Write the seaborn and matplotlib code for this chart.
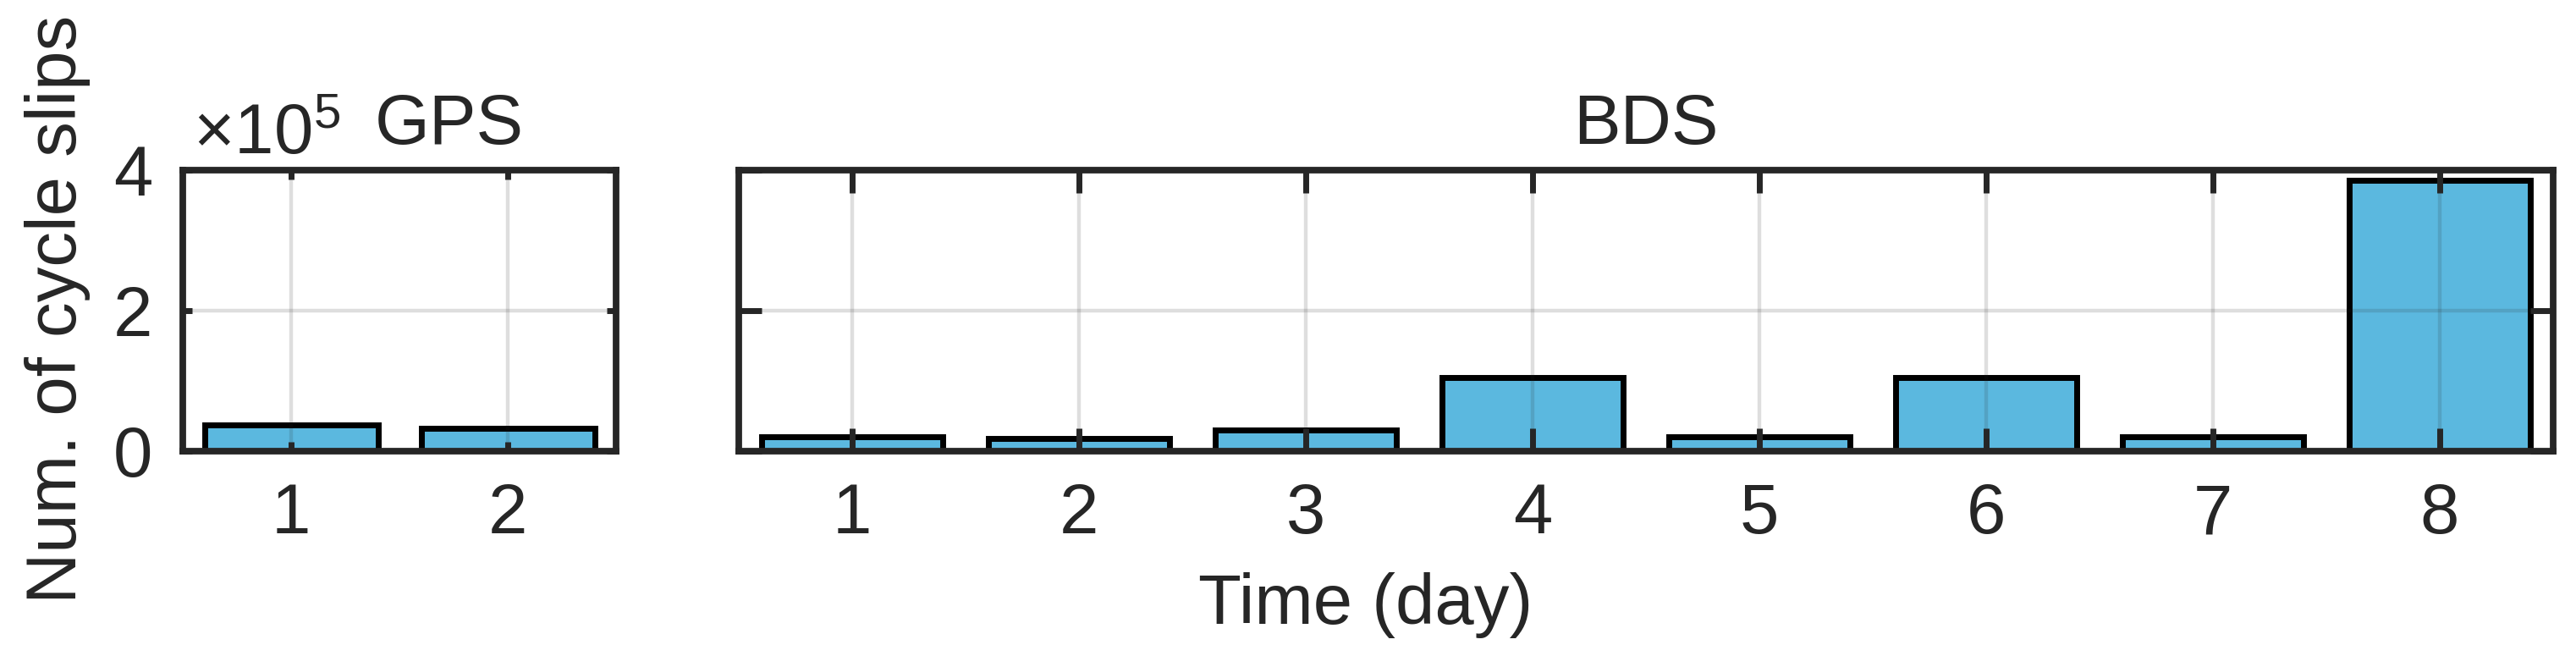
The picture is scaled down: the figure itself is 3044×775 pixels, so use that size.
import matplotlib
matplotlib.use("Agg")
import matplotlib.pyplot as plt
import seaborn as sns
from matplotlib.ticker import FuncFormatter

# cycle slip counts per day
gps_days = ["1", "2"]
gps_slips = [37000, 32000]

bds_days = ["1", "2", "3", "4", "5", "6", "7", "8"]
bds_slips = [21000, 18000, 30000, 105000, 21000, 105000, 21000, 385000]

y_ticks = [0, 200000, 400000]

sns.set_style("white")
plt.rcParams["font.family"] = ["Liberation Sans", "DejaVu Sans"]
plt.rcParams["mathtext.fontset"] = "custom"
plt.rcParams["mathtext.rm"] = "Liberation Sans"
plt.rcParams["mathtext.it"] = "Liberation Sans"

bar_color = "#5BB8DF"
axis_color = "#262626"
fs = 30

fig = plt.figure(figsize=(15.22, 3.875), dpi=200)
ax_gps = fig.add_axes([0.0710, 0.3123, 0.1682, 0.4284])
ax_bds = fig.add_axes([0.2868, 0.3123, 0.7043, 0.4284])


def style_axis(ax, tick_len):
    ax.set_ylim(0, 400000)
    ax.set_yticks(y_ticks)
    ax.yaxis.set_major_formatter(FuncFormatter(lambda v, p: "%d" % round(v / 1e5)))
    ax.set_axisbelow(False)
    ax.grid(True, color=axis_color, alpha=0.15, linewidth=1.6)
    for s in ax.spines.values():
        s.set_visible(True)
        s.set_color(axis_color)
        s.set_linewidth(2.8)
    ax.tick_params(direction="in", length=tick_len, width=2.5, color=axis_color,
                   top=True, right=True, bottom=True, left=True,
                   labelsize=fs, labelcolor="#262626", pad=13)
    ax.set_xlabel("")
    ax.set_ylabel("")


sns.barplot(x=gps_days, y=gps_slips, ax=ax_gps, color=bar_color, saturation=1,
            edgecolor="black", linewidth=2.5, width=0.8)
ax_gps.set_xlim(-0.5, len(gps_days) - 0.5)
style_axis(ax_gps, 4)

sns.barplot(x=bds_days, y=bds_slips, ax=ax_bds, color=bar_color, saturation=1,
            edgecolor="black", linewidth=2.5, width=0.8)
ax_bds.set_xlim(-0.5, len(bds_days) - 0.5)
style_axis(ax_bds, 9.7)
ax_bds.set_yticklabels([])

# titles, exponent and shared labels
fig.text(0.1745, 0.781, "GPS", fontsize=fs, ha="center", va="baseline", color="#262626")
fig.text(0.639, 0.781, "BDS", fontsize=fs, ha="center", va="baseline", color="#262626")
fig.text(0.0749, 0.765, r"$\times$10$^{5}$", fontsize=fs, ha="left", va="baseline", color="#262626")
fig.text(0.530, 0.049, "Time (day)", fontsize=fs, ha="center", va="baseline", color="#262626")
fig.text(0.0225, 0.528, "Num. of cycle slips", fontsize=fs, rotation=90,
         ha="center", va="center", color="#262626")

fig.savefig("out.png", dpi=200)
